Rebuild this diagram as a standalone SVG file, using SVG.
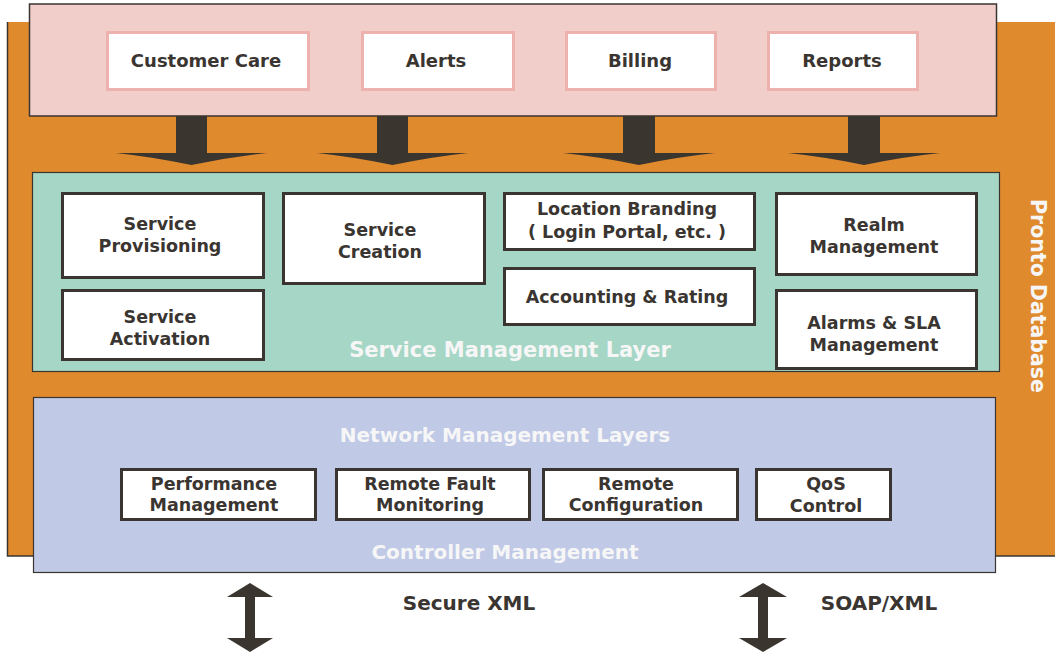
<svg xmlns="http://www.w3.org/2000/svg" width="1055" height="653" viewBox="0 0 1055 653">
<style>
.t{font-family:"DejaVu Sans","Liberation Sans",sans-serif;font-weight:bold;fill:#3a3531;text-anchor:middle;font-size:17.5px}
.top{font-size:18px}
.lay{font-family:"DejaVu Sans","Liberation Sans",sans-serif;font-weight:bold;fill:#f6f6f6;text-anchor:middle;font-size:20px}
.wb{fill:#ffffff;stroke:#eeb2ae;stroke-width:3}
.nb{fill:#ffffff;stroke:#3a3531;stroke-width:3}
.ar{fill:#3a352f}
.edge{stroke:#3a3531;stroke-width:1.5;fill:none}
</style>
<rect width="1055" height="653" fill="#ffffff"/>
<g id="pronto-database">
<rect x="7" y="22" width="1050" height="534" fill="#e08a2e"/>
<path class="edge" d="M7.5,22 V556 H1056"/>
<text class="lay" style="font-size:20.5px" transform="translate(1031,296) rotate(90)">Pronto Database</text>
</g>
<g id="applications-layer">
<rect x="29.5" y="4" width="967" height="112" fill="#f2cecb" stroke="#3a3531" stroke-width="1.5"/>
</g>
<g id="customer-care"><rect class="wb" x="107.5" y="32.5" width="201" height="57"/><text class="t top" x="206" y="67">Customer Care</text></g>
<g id="alerts"><rect class="wb" x="362.5" y="32.5" width="151" height="57"/><text class="t top" x="436" y="67">Alerts</text></g>
<g id="billing"><rect class="wb" x="566.5" y="32.5" width="149" height="57"/><text class="t top" x="640" y="67">Billing</text></g>
<g id="reports"><rect class="wb" x="768.5" y="32.5" width="149" height="57"/><text class="t top" x="842" y="67">Reports</text></g>
<g id="service-management-layer">
<rect x="32.5" y="172.5" width="967" height="199" fill="#a6d6c6" stroke="#3a3531" stroke-width="1.2"/>
<text class="lay" style="font-size:21px" x="510" y="357">Service Management Layer</text>
</g>
<g id="service-provisioning"><rect class="nb" x="62.5" y="193.5" width="201" height="84"/><text class="t" x="160" y="230">Service</text><text class="t" x="160" y="252">Provisioning</text></g>
<g id="service-activation"><rect class="nb" x="62.5" y="290.5" width="201" height="69"/><text class="t" x="160" y="323">Service</text><text class="t" x="160" y="345">Activation</text></g>
<g id="service-creation"><rect class="nb" x="283.5" y="193.5" width="201" height="90"/><text class="t" x="380" y="236">Service</text><text class="t" x="380" y="258">Creation</text></g>
<g id="location-branding"><rect class="nb" x="504.5" y="193.5" width="250" height="56"/><text class="t" x="627" y="215">Location Branding</text><text class="t" x="627" y="238">( Login Portal, etc. )</text></g>
<g id="accounting-rating"><rect class="nb" x="504.5" y="268.5" width="250" height="56"/><text class="t" x="627" y="303">Accounting &amp; Rating</text></g>
<g id="realm-management"><rect class="nb" x="776.5" y="193.5" width="200" height="81"/><text class="t" x="874" y="231">Realm</text><text class="t" x="874" y="253">Management</text></g>
<g id="alarms-sla"><rect class="nb" x="776.5" y="290.5" width="200" height="78"/><text class="t" x="874" y="329">Alarms &amp; SLA</text><text class="t" x="874" y="351">Management</text></g>
<g id="network-management-layers">
<rect x="33.5" y="397.5" width="962" height="175" fill="#c0c9e6" stroke="#3a3531" stroke-width="1.2"/>
<text class="lay" x="505" y="442">Network Management Layers</text>
<text class="lay" x="505" y="559">Controller Management</text>
</g>
<g id="performance-management"><rect class="nb" x="121.5" y="469.5" width="194" height="50"/><text class="t" x="214" y="490">Performance</text><text class="t" x="214" y="511">Management</text></g>
<g id="remote-fault-monitoring"><rect class="nb" x="336.5" y="469.5" width="193" height="50"/><text class="t" x="430" y="490">Remote Fault</text><text class="t" x="430" y="511">Monitoring</text></g>
<g id="remote-configuration"><rect class="nb" x="543.5" y="469.5" width="194" height="50"/><text class="t" x="636" y="490">Remote</text><text class="t" x="636" y="511">Configuration</text></g>
<g id="qos-control"><rect class="nb" x="756.5" y="469.5" width="134" height="50"/><text class="t" x="826" y="490">QoS</text><text class="t" x="826" y="512">Control</text></g>
<g id="connectors">
<path class="ar" d="M176,116 H207 V153 H267 Q230,157 191.5,165 Q153,157 116,153 H176 Z"/>
<path class="ar" d="M377,116 H408 V153 H468 Q431,157 392.5,165 Q354,157 317,153 H377 Z"/>
<path class="ar" d="M623,116 H655 V153 H715 Q677,157 639,165 Q601,157 563,153 H623 Z"/>
<path class="ar" d="M848,116 H880 V153 H940 Q902,157 864,165 Q826,157 788,153 H848 Z"/>
<path class="ar" d="M250,583 L273,597 H255 V638 H273 L250,652 L227,638 H245 V597 H227 Z"/>
<path class="ar" d="M763,583 L787,597 H768 V638 H787 L763,652 L739,638 H758 V597 H739 Z"/>
<text class="t" style="font-size:20px" x="469" y="610">Secure XML</text>
<text class="t" style="font-size:20px" x="879" y="610">SOAP/XML</text>
</g>
</svg>
